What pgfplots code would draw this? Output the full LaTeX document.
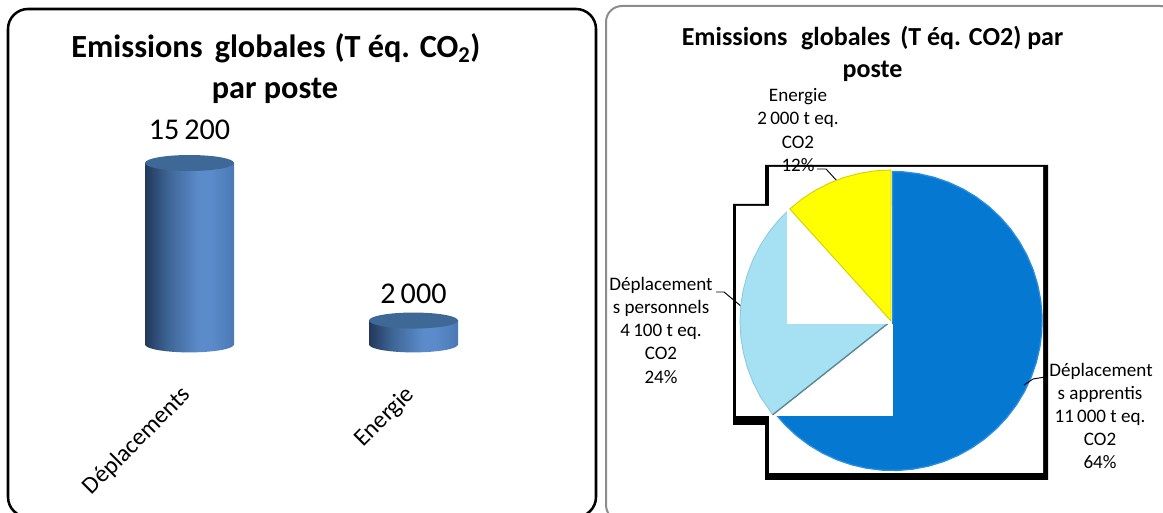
\documentclass[border=0pt]{standalone}
\usepackage{pgfplots}
\pgfplotsset{compat=1.18}
\usepackage{fontspec}
\setmainfont{Carlito}

% Cylinder body: dark on the left, brightest a little right of the middle
\definecolor{cylA}{HTML}{22385A}
\definecolor{cylB}{HTML}{3E6596}
\definecolor{cylC}{HTML}{5B8BCB}
\definecolor{cylD}{HTML}{4B79B5}
\definecolor{cylTop}{HTML}{3E6896}
\pgfdeclarehorizontalshading{cylshade}{100bp}{
  color(0bp)=(cylA); color(25bp)=(cylA); color(38bp)=(cylB);
  color(55bp)=(cylC); color(62bp)=(cylC); color(75bp)=(cylD); color(100bp)=(cylD)}
\pgfdeclareplotmark{cyltop}{%
  \pgfpathellipse{\pgfpointorigin}{\pgfqpoint{33.4pt}{0pt}}{\pgfqpoint{0pt}{6pt}}%
  \pgfusepathqfill}
\pgfdeclareplotmark{cylbase}{%
  \pgfpathellipse{\pgfpointorigin}{\pgfqpoint{33.4pt}{0pt}}{\pgfqpoint{0pt}{6pt}}%
  \pgfshadepath{cylshade}{0}\pgfusepath{discard}}

\definecolor{pieBlue}{HTML}{0578D2}
\definecolor{pieBlueRim}{HTML}{2A8DE0}
\definecolor{pieSky}{HTML}{A6E1F3}
\definecolor{pieSkyRim}{HTML}{8FCBE0}
\definecolor{pieSkyEdge}{HTML}{5D8593}
\definecolor{pieYellow}{HTML}{FFFF00}
\definecolor{pieYellowEdge}{HTML}{D8CF00}

\begin{document}
\begin{tikzpicture}[x=0.75pt,y=0.75pt]
\clip (0,0) rectangle (1163,513);

% Panels
\draw[black,line width=1.9pt,rounded corners=15pt] (8,-4) rectangle (596,504);
\draw[black!45,line width=1.5pt,rounded corners=12pt] (606,-8) rectangle (1176,507);

% Bar panel
\begin{axis}[
  at={(58.125pt,126.45pt)},anchor=south west,
  scale only axis,width=336pt,height=143.2pt,
  xmin=-0.5,xmax=1.5,ymin=0,ymax=16000,
  clip=false,
  axis line style={draw=none},tick style={draw=none},
  ymajorticks=false,
  xtick={0,1},xticklabels={Déplacements,Energie},
  x tick label style={rotate=45,anchor=north east,font=\fontsize{18.2pt}{20pt}\selectfont,yshift=-12.2pt,xshift=-22.6pt},
  /pgf/number format/assume math mode=true,
  /pgf/number format/1000 sep={\,},
]
\addplot[only marks,mark=cylbase] coordinates {(0,0) (1,0)};
\addplot[ybar,bar width=66.75pt,bar shift=0pt,draw=none,shading=cylshade,
  nodes near coords,point meta=y,
  nodes near coords style={anchor=center,yshift=24.75pt,text=black,font=\fontsize{22.6pt}{24pt}\selectfont}]
  coordinates {(0,15200)};
\addplot[ybar,bar width=66.75pt,bar shift=0pt,draw=none,shading=cylshade,
  nodes near coords,point meta=y,
  nodes near coords style={anchor=center,yshift=19.9pt,text=black,font=\fontsize{22.6pt}{24pt}\selectfont}]
  coordinates {(1,2000)};
\addplot[only marks,mark=cyltop,mark options={fill=cylTop,draw=none}] coordinates {(0,15200) (1,2000)};
\end{axis}

% Pie panel: x and y count from the centre of the pie
\begin{axis}[
  at={(0pt,0pt)},anchor=south west,
  scale only axis,width=872.25pt,height=384.75pt,
  xmin=-891,xmax=272,ymin=-192,ymax=321,
  clip=false,hide axis,
]
% Outline behind the pie
\addplot[fill=black,draw=none] coordinates {(-126,156) (157,156) (157,-159) (-126,-159) (-126,-104) (-158,-104) (-158,117) (-126,117)} -- cycle;
\addplot[fill=white,draw=none] coordinates {(-122,154) (152,154) (152,-152) (-122,-152) (-122,-95) (-155,-95) (-155,115) (-122,115)} -- cycle;
% Déplacements apprentis, 64 %
\addplot[data cs=polar,fill=pieBlue,draw=pieBlueRim,line width=1pt,xshift=1.2pt] coordinates {
  (0,0) (218.4,149.5) (224,149.5) (230,149.5) (236,149.5) (242,149.5) (248,149.5) (254,149.5) (260,149.5) (266,149.5) (272,149.5)
  (278,149.5) (284,149.5) (290,149.5) (296,149.5) (302,149.5) (308,149.5) (314,149.5) (320,149.5) (326,149.5) (332,149.5)
  (338,149.5) (344,149.5) (350,149.5) (356,149.5) (2,149.5) (8,149.5) (14,149.5) (20,149.5) (26,149.5) (32,149.5) (38,149.5)
  (44,149.5) (50,149.5) (56,149.5) (62,149.5) (68,149.5) (74,149.5) (80,149.5) (86,149.5) (90,149.5)} -- cycle;
\addplot[fill=white,draw=none] coordinates {(-155,-3) (1.7,-3) (1.7,-95) (-155,-95)} -- cycle;
% Leader lines
\addplot[black,line width=0.7pt] coordinates {(-175,29) (-167,29) (-149,14)};
\addplot[black,line width=0.7pt] coordinates {(-74,152) (-65,152) (-54,140)};
% Déplacements personnels, 24 %
\addplot[data cs=polar,fill=pieSky,draw=pieSkyRim,line width=0.7pt] coordinates {
  (0,0) (132.1,151) (138,151) (144,151) (150,151) (156,151) (162,151) (168,151) (174,151) (180,151)
  (186,151) (192,151) (198,151) (204,151) (210,151) (218.4,151)} -- cycle;
\addplot[data cs=polar,pieSkyEdge,line width=1pt] coordinates {(0,0) (218.4,151)};
\addplot[fill=white,draw=none] coordinates {(-104,114) (1,114) (1,-3) (-104,-3)} -- cycle;
% Energie, 12 %
\addplot[data cs=polar,fill=pieYellow,draw=pieYellowEdge,line width=0.7pt] coordinates {
  (0,0) (90,151) (96,151) (102,151) (108,151) (114,151) (120,151) (126,151) (132.1,151)} -- cycle;
\addplot[black,line width=0.7pt] coordinates {(133,-64) (142,-58) (154,-56)};
\end{axis}

% Titles
\node[font=\fontsize{24.2pt}{26pt}\bfseries\selectfont] at (276,465) {Emissions\hspace{0.15em} globales\hspace{0.05em} (T éq. CO\textsubscript{2})};
\node[font=\fontsize{24.2pt}{26pt}\bfseries\selectfont] at (275,422) {par poste};
\node[font=\fontsize{19.5pt}{22pt}\bfseries\selectfont] at (872.5,475) {Emissions\hspace{0.3em} globales\hspace{0.15em} (T éq. CO2) par};
\node[font=\fontsize{19.5pt}{22pt}\bfseries\selectfont] at (872.5,441.5) {poste};

% Slice labels, set on their baselines
\begin{scope}[every node/.style={anchor=base,font=\fontsize{14.3pt}{16pt}\selectfont}]
\node at (798,411) {Energie};
\node at (798,388) {2\,000 t eq.};
\node at (798,364) {CO2};
\node at (798,341) {12\%};
\node at (661,222) {Déplacement};
\node at (661,199) {s personnels};
\node at (661,176) {4\,100 t eq.};
\node at (661,153) {CO2};
\node at (661,129) {24\%};
\node at (1101,136) {Déplacement};
\node at (1100,113) {s apprentis};
\node at (1100,90) {11\,000 t eq.};
\node at (1100,67) {CO2};
\node at (1100,44) {64\%};
\end{scope}
\end{tikzpicture}
\end{document}
